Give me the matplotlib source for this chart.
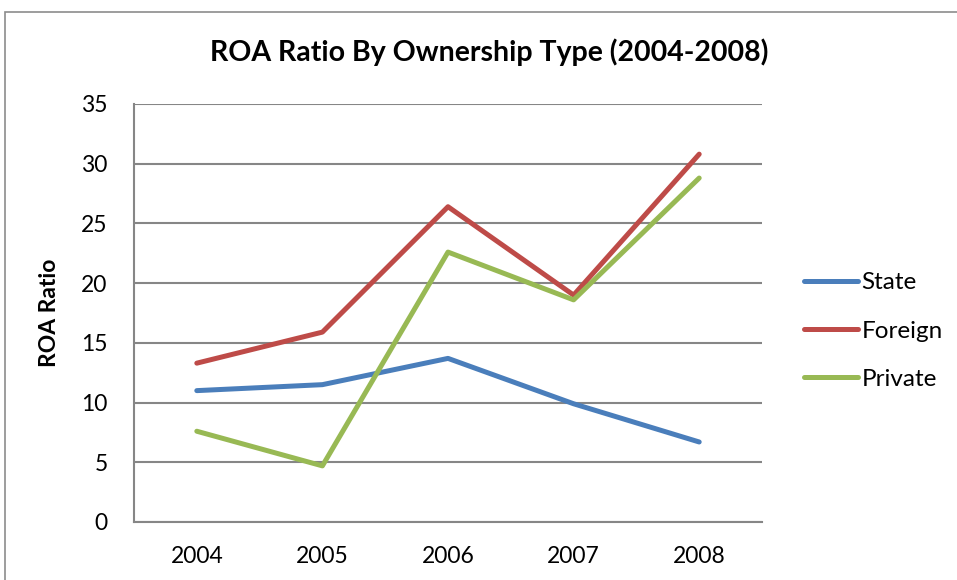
import numpy as np
import matplotlib
matplotlib.use("Agg")
import matplotlib.pyplot as plt
from matplotlib.patches import Rectangle

# data
years = ["2004", "2005", "2006", "2007", "2008"]
state = [11.0, 11.5, 13.7, 9.9, 6.7]
foreign = [13.3, 15.9, 26.4, 19.0, 30.8]
private = [7.6, 4.7, 22.6, 18.6, 28.8]
y_ticks = [0, 5, 10, 15, 20, 25, 30, 35]

plt.rcParams['font.family'] = ['Lato', 'DejaVu Sans']

W, H = 957, 580
fig = plt.figure(figsize=(W / 100, H / 100), dpi=100)

# outer chart border (only top and left visible in the crop)
fig.patches.append(Rectangle((5 / W, -0.1), 1.2, (H - 12) / H + 0.1,
                             transform=fig.transFigure, fill=False,
                             edgecolor='#8c8c8c', linewidth=1.2))

ax = fig.add_axes([134 / W, 1 - 522 / H, (762 - 134) / W, (522 - 104) / H])
x = np.arange(len(years))
ax.plot(x, state, color='#4A7EBB', lw=3.6, label='State', solid_capstyle='round')
ax.plot(x, foreign, color='#BE4B48', lw=3.6, label='Foreign', solid_capstyle='round')
ax.plot(x, private, color='#98B954', lw=3.6, label='Private', solid_capstyle='round')

ax.set_xlim(-0.5, len(years) - 0.5)
ax.set_ylim(0, 35)
ax.set_yticks(y_ticks)
ax.set_xticks(x)
ax.set_xticklabels(years)
ax.tick_params(length=0, labelsize=16.5, pad=0)
ax.tick_params(axis='y', pad=19)
ax.tick_params(axis='x', pad=17)
ax.yaxis.grid(True, color='#868686', lw=1.5)
ax.set_axisbelow(True)
for s in ['top', 'right']:
    ax.spines[s].set_visible(False)
for s in ['left', 'bottom']:
    ax.spines[s].set_color('#868686')
    ax.spines[s].set_linewidth(1.5)

ax.set_ylabel('ROA Ratio', fontsize=16.5, fontweight='bold')
ax.yaxis.set_label_coords(-0.118, 0.5)
fig.text(489 / W, 1 - 52 / H, 'ROA Ratio By Ownership Type (2004-2008)',
         ha='center', va='center', fontsize=20.5, fontweight='bold')

ax.legend(loc='center left', bbox_to_anchor=(792 / W, 1 - 331 / H),
          bbox_transform=fig.transFigure, frameon=False, borderpad=0,
          fontsize=17.5, handlelength=2.2, handletextpad=0.15, labelspacing=1.12)

fig.savefig('out.png', dpi=100)
